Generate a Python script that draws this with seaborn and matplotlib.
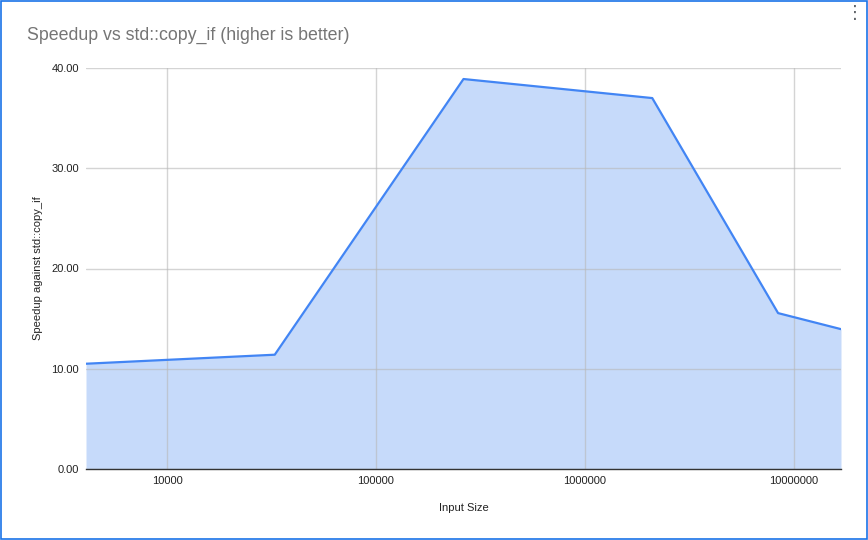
import matplotlib
matplotlib.use("Agg")
import matplotlib.pyplot as plt
import matplotlib.ticker as mticker
import seaborn as sns
import pandas as pd

# data
input_size = [4096, 32768, 262144, 2097152, 8388608, 16777216]
speedup = [10.5, 11.4, 38.9, 37.0, 15.55, 13.95]
x_ticks = [10000, 100000, 1000000, 10000000]
y_ticks = [0, 10, 20, 30, 40]

df = pd.DataFrame({"size": input_size, "speedup": speedup})

sns.set_theme(style="white")
plt.rcParams["font.family"] = ["Liberation Sans", "DejaVu Sans"]

fig = plt.figure(figsize=(8.68, 5.4), dpi=100)
ax = fig.add_axes([86 / 868, 1 - 469 / 540, (841 - 86) / 868, (469 - 68) / 540])

ax.fill_between(df["size"], df["speedup"], 0, color="#c6dafa", zorder=1, linewidth=0)
sns.lineplot(data=df, x="size", y="speedup", ax=ax, color="#4285f4", linewidth=1.6, zorder=3)

ax.set_xscale("log")
ax.set_xlim(input_size[0], input_size[-1])
ax.set_ylim(0, 40)
ax.set_xticks(x_ticks)
ax.xaxis.set_major_formatter(mticker.FuncFormatter(lambda v, p: f"{int(v)}"))
ax.xaxis.set_minor_locator(mticker.NullLocator())
ax.set_yticks(y_ticks)
ax.yaxis.set_major_formatter(mticker.FuncFormatter(lambda v, p: f"{v:.2f}"))

ax.grid(True, color="#b8b8b8", linewidth=1, zorder=2, alpha=0.6)
ax.set_axisbelow(False)
for s in ["top", "right", "left"]:
    ax.spines[s].set_visible(False)
ax.spines["bottom"].set_color("#333333")
ax.spines["bottom"].set_linewidth(1)
ax.spines["bottom"].set_zorder(4)
ax.tick_params(axis="both", length=0, labelsize=8, colors="#222222", pad=5)

ax.set_xlabel("Input Size", fontsize=8, color="#222222", labelpad=12)
ax.set_ylabel("Speedup against std::copy_if", fontsize=8, color="#222222", labelpad=6)

fig.text(27 / 868, 1 - 35 / 540, "Speedup vs std::copy_if (higher is better)",
         fontsize=12.8, color="#757575", va="center", ha="left")

# selection border
border = plt.Rectangle((0.001, 0.001), 0.998, 0.997, transform=fig.transFigure,
                       fill=False, edgecolor="#1a73e8", linewidth=1.2)
fig.patches.append(border)
fig.text(855 / 868, 1 - 14 / 540, "\u22ee", fontsize=13, color="#5f6368",
         ha="center", va="center")

fig.savefig("out.png", dpi=100)
